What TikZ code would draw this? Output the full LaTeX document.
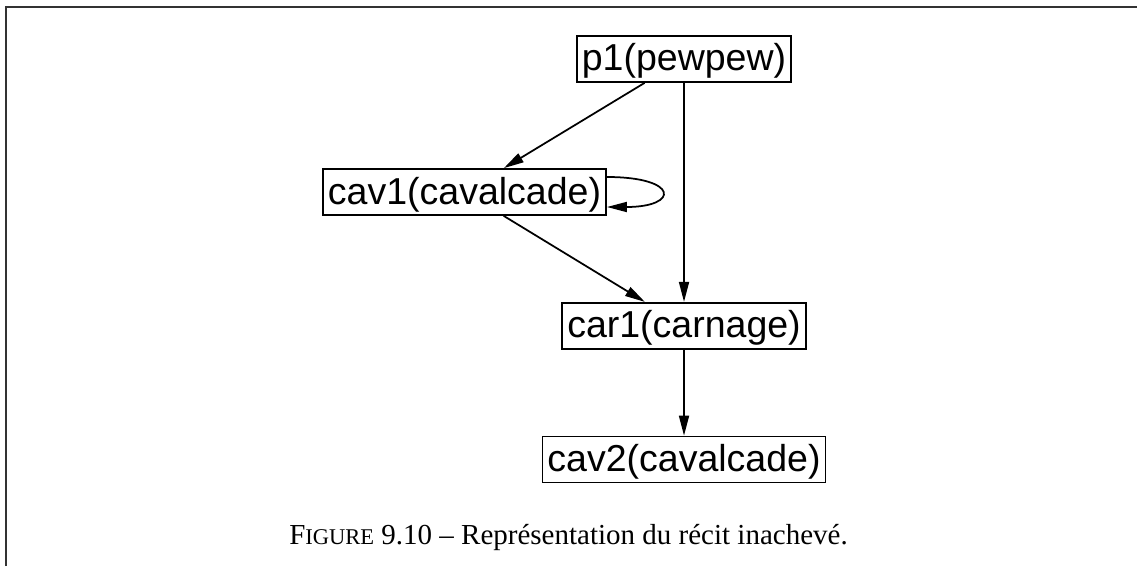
\documentclass[tikz,border=0pt]{standalone}
\usepackage{fontspec}
\setmainfont{Liberation Serif}
\newfontfamily\graphfont{Liberation Sans}
\usetikzlibrary{positioning,arrows.meta}

\begin{document}
\begin{tikzpicture}[x=0.4pt,y=-0.4pt,line width=0.7pt,>={Triangle[length=8pt,width=4pt]},
  box/.style={draw,inner xsep=2pt,inner ysep=0pt,text height=14pt,text depth=4.4pt,
    font=\graphfont\fontsize{15}{18}\selectfont}]
\useasboundingbox (0,0) rectangle (1137,566);
\draw[line width=0.9pt,black!80] (6,566) -- (6,7) -- (1137,7);
\node[box] (p1) at (684,59) {p1(pewpew)};
\node[box] (cav1) at (464.5,192) {cav1(cavalcade)};
\node[box,below=87.6pt of p1] (car1) {car1(carnage)};
\node[box,below=34.4pt of car1] (cav2) {cav2(cavalcade)};
\draw[->] (p1) -- (cav1);
\draw[->] (p1) -- (car1);
\draw[->] (cav1) -- (car1);
\draw[->] (car1) -- (cav2);
\draw[->] ([yshift=6pt]cav1.east) .. controls +(29pt,0pt) and +(29pt,0pt) .. ([yshift=-6pt]cav1.east);
\node[anchor=base] (caption) at (568.5,544) {\fontsize{11.6}{14}\selectfont F{\fontsize{9}{11}\selectfont IGURE} 9.10 – Représentation du récit inachevé.};
\end{tikzpicture}
\end{document}
